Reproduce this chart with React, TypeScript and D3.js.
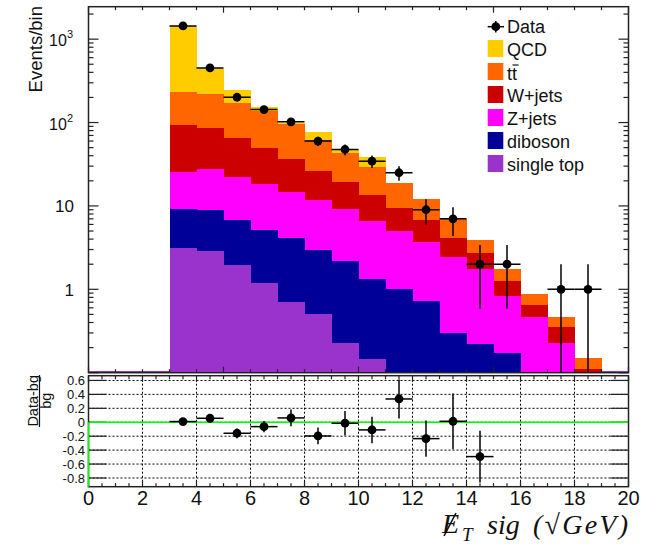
import React from 'react';
import * as d3 from 'd3';

// bins of width 1 from 0 to 20 (lower edges)
const binLow = [0, 1, 2, 3, 4, 5, 6, 7, 8, 9, 10, 11, 12, 13, 14, 15, 16, 17, 18, 19];

// background components, stacked bottom -> top
const singleTop = [0, 0, 0, 3.16, 2.88, 1.95, 1.18, 0.705, 0.507, 0.225, 0.148, 0, 0, 0, 0, 0, 0, 0, 0, 0];
const diboson = [0, 0, 0, 5.92, 5.95, 4.75, 3.91, 3.46, 2.42, 1.96, 1.17, 1.0, 0.72, 0.3, 0.22, 0.17, 0, 0, 0, 0];
const zJets = [0, 0, 0, 16.3, 18.6, 15.4, 13.0, 10.4, 8.8, 7.07, 5.26, 3.99, 2.97, 2.14, 1.52, 0.65, 0.47, 0.23, 0.05, 0];
const wJets = [0, 0, 0, 69.2, 59.0, 44.0, 31.7, 22.1, 14.4, 10.05, 7.1, 4.5, 3.07, 1.72, 0.96, 0.44, 0.18, 0.12, 0.06, 0];
const ttbar = [0, 0, 0, 135, 136, 104, 89, 60, 36, 24, 15.5, 9.5, 5.2, 2.73, 1.16, 0.51, 0.23, 0.11, 0.04, 0];
const qcd = [0, 0, 0, 1200, 213, 75, 15, 1.5, 14, 4.9, 9.6, 0, 0, 0, 0, 0, 0, 0, 0, 0];

// data
const dataCounts = [0, 0, 0, 1440, 452, 201, 143, 102, 60, 47.5, 34.4, 25, 9, 7, 2, 2, 0, 1, 1, 0];
const dataErr = [0, 0, 0, 38, 21, 14, 12, 10, 7.7, 6.9, 5.9, 5, 3, 2.65, 1.41, 1.41, 0, 1, 1, 0];

// (data-bg)/bg
const ratioBins = [3, 4, 5, 6, 7, 8, 9, 10, 11, 12, 13, 14];
const ratioVals = [0.01, 0.057, -0.158, -0.063, 0.062, -0.197, -0.014, -0.11, 0.334, -0.235, 0.014, -0.493];
const ratioErr = [0.03, 0.05, 0.07, 0.08, 0.12, 0.12, 0.175, 0.19, 0.28, 0.26, 0.4, 0.37];

const xTickLabels = [0, 2, 4, 6, 8, 10, 12, 14, 16, 18, 20];
const ratioTickLabels = [0.6, 0.4, 0.2, 0, -0.2, -0.4, -0.6, -0.8];
const logTickLabels = [1000, 100, 10, 1];

const keys = ['singleTop', 'diboson', 'zJets', 'wJets', 'ttbar', 'qcd'];
const colors: Record<string, string> = {
  singleTop: '#9933cc',
  diboson: '#000099',
  zJets: '#ff00ff',
  wJets: '#cc0000',
  ttbar: '#ff6600',
  qcd: '#ffcc00',
};
const legendItems = [
  { key: 'qcd', label: 'QCD' },
  { key: 'ttbar', label: 'tt' },
  { key: 'wJets', label: 'W+jets' },
  { key: 'zJets', label: 'Z+jets' },
  { key: 'diboson', label: 'diboson' },
  { key: 'singleTop', label: 'single top' },
];

const left = 88.5, right = 628.5;
const top0 = 6.7, top1 = 372.7;
const rat0 = 375.7, rat1 = 486.7;
const yMin = 0.1;

const sans = 'Liberation Sans, Arial, Helvetica, sans-serif';
const serif = 'Liberation Serif, Times New Roman, serif';

const App = () => {
  const x = d3.scaleLinear().domain([0, 20]).range([left, right]);
  const y = d3.scaleLog().domain([yMin, 2450]).range([top1, top0]);
  const yr = d3.scaleLinear().domain([-0.925, 0.668]).range([rat1, rat0]);

  const rows = binLow.map((b, i) => ({
    singleTop: singleTop[i], diboson: diboson[i], zJets: zJets[i],
    wJets: wJets[i], ttbar: ttbar[i], qcd: qcd[i],
  }));
  const stacked = d3.stack<any>().keys(keys)(rows);

  const yPix = (v: number) => (v <= yMin ? top1 : y(v));

  // log ticks
  const logTicks: { v: number; major: boolean }[] = [];
  for (let e = -1; e <= 3; e++) {
    for (let m = 1; m <= 9; m++) {
      const v = m * Math.pow(10, e);
      if (v >= yMin && v <= 2450) logTicks.push({ v, major: m === 1 });
    }
  }
  const xUnitTicks = d3.range(0, 21, 1);
  const xHalfTicks = d3.range(0, 20.01, 0.5);

  const stroke = '#222';

  return (
    <svg width={650} height={546} style={{ position: 'absolute', left: 0, top: 0, background: '#fff' }}
      fontFamily={sans}>
      <defs>
        <clipPath id="topclip">
          <rect x={left} y={top0} width={right - left} height={top1 - top0} />
        </clipPath>
      </defs>

      {/* ===== top panel ===== */}
      <g clipPath="url(#topclip)">
        <line x1={left} x2={right} y1={top1 - 1} y2={top1 - 1} stroke={colors.singleTop} strokeWidth={1.6} />
        {stacked.map((s) => (
          <g key={s.key}>
            {s.map((d, i) => {
              if (d[1] - d[0] <= 0 || d[1] <= yMin) return null;
              const yt = yPix(d[1]);
              const yb = yPix(d[0]);
              return (
                <rect key={i} x={x(binLow[i])} width={x(binLow[i] + 1) - x(binLow[i])}
                  y={yt} height={yb - yt} fill={colors[s.key]} shapeRendering="crispEdges" />
              );
            })}
          </g>
        ))}
        {/* data */}
        {binLow.map((b, i) => {
          const n = dataCounts[i];
          if (n <= 0) return null;
          const cx = x(b + 0.5);
          const cy = y(n);
          const lo = n - dataErr[i];
          return (
            <g key={i}>
              <line x1={x(b)} x2={x(b + 1)} y1={cy} y2={cy} stroke="#000" strokeWidth={1.5} />
              <line x1={cx} x2={cx} y1={y(n + dataErr[i])} y2={yPix(lo)} stroke="#000" strokeWidth={1.5} />
              <circle cx={cx} cy={cy} r={4.4} fill="#000" />
            </g>
          );
        })}
      </g>

      {/* top panel frame & ticks */}
      <rect x={left} y={top0} width={right - left} height={top1 - top0} fill="none" stroke={stroke} strokeWidth={1.5} />
      {logTicks.map((t, i) => {
        const yy = y(t.v);
        const len = t.major ? 10 : 5;
        return (
          <g key={i} stroke={stroke} strokeWidth={1.2}>
            <line x1={left} x2={left + len} y1={yy} y2={yy} />
            <line x1={right} x2={right - len} y1={yy} y2={yy} />
          </g>
        );
      })}
      {xUnitTicks.map((t) => {
        const xx = x(t);
        const len = t % 5 === 0 ? 6 : 3.5;
        return (
          <g key={t} stroke={stroke} strokeWidth={1.2}>
            <line x1={xx} x2={xx} y1={top0} y2={top0 + len} />
            <line x1={xx} x2={xx} y1={top1} y2={top1 - len} />
          </g>
        );
      })}
      {logTickLabels.map((v) => {
        const yy = y(v);
        const exp = Math.round(Math.log10(v));
        if (exp >= 2) {
          return (
            <text key={v} x={73} y={yy + 7} textAnchor="end" fontSize={16} fill="#111">
              10<tspan dy={-8} fontSize={11}>{exp}</tspan>
            </text>
          );
        }
        return (
          <text key={v} x={74} y={yy + 6.5} textAnchor="end" fontSize={17} fill="#111">{v}</text>
        );
      })}
      <text transform="translate(41.5,6) rotate(-90)" textAnchor="end" fontSize={18.5} fill="#111">Events/bin</text>

      {/* legend */}
      <g>
        <line x1={487.7} x2={504} y1={26.7} y2={26.7} stroke="#000" strokeWidth={1.5} />
        <line x1={495.8} x2={495.8} y1={21} y2={32.5} stroke="#000" strokeWidth={1.5} />
        <circle cx={495.8} cy={26.7} r={4.4} fill="#000" />
        <text x={507} y={33.3} fontSize={18} fill="#111">Data</text>
        {legendItems.map((it, i) => {
          const base = 56 + i * 23;
          return (
            <g key={it.key}>
              <rect x={487.7} y={base - 16} width={15.6} height={17} fill={colors[it.key]} />
              <text x={507} y={it.key === 'ttbar' ? base + 1 : base} fontSize={18} fill="#111">{it.label}</text>
              {it.key === 'ttbar' && (
                <line x1={512.5} x2={518.5} y1={base - 14} y2={base - 14} stroke="#111" strokeWidth={1.2} />
              )}
            </g>
          );
        })}
      </g>

      {/* ===== ratio panel ===== */}
      {d3.range(2, 20, 2).map((t) => (
        <line key={t} x1={x(t)} x2={x(t)} y1={rat0} y2={rat1} stroke="#000" strokeWidth={1} strokeDasharray="2,2" />
      ))}
      {ratioTickLabels.map((t) => (
        <g key={t}>
          <line x1={left} x2={right} y1={yr(t)} y2={yr(t)} stroke="#000" strokeWidth={1} strokeDasharray="2,2" />
          <line x1={left} x2={left + 18} y1={yr(t)} y2={yr(t)} stroke={stroke} strokeWidth={1.2} />
          <line x1={right} x2={right - 18} y1={yr(t)} y2={yr(t)} stroke={stroke} strokeWidth={1.2} />
          <text x={85} y={yr(t) + 4.6} textAnchor="end" fontSize={13} fill="#111">{t === 0 ? '0' : t.toFixed(1)}</text>
        </g>
      ))}
      {xHalfTicks.map((t) => {
        const xx = x(t);
        const len = t % 2 === 0 ? 6 : 3.5;
        return (
          <g key={t} stroke={stroke} strokeWidth={1.2}>
            <line x1={xx} x2={xx} y1={rat0} y2={rat0 + len} />
            <line x1={xx} x2={xx} y1={rat1} y2={rat1 - len} />
          </g>
        );
      })}
      <line x1={left} x2={right} y1={yr(0)} y2={yr(0)} stroke="#00ff00" strokeWidth={1.5} />
      {ratioBins.map((b, i) => {
        const cx = x(b + 0.5);
        const cy = yr(ratioVals[i]);
        return (
          <g key={b}>
            <line x1={x(b)} x2={x(b + 1)} y1={cy} y2={cy} stroke="#000" strokeWidth={1.5} />
            <line x1={cx} x2={cx} y1={yr(ratioVals[i] + ratioErr[i])} y2={yr(ratioVals[i] - ratioErr[i])} stroke="#000" strokeWidth={1.5} />
            <circle cx={cx} cy={cy} r={4.4} fill="#000" />
          </g>
        );
      })}
      <rect x={left} y={rat0} width={right - left} height={rat1 - rat0} fill="none" stroke={stroke} strokeWidth={1.5} />
      <line x1={left} x2={left} y1={yr(0)} y2={rat1} stroke="#00ff00" strokeWidth={1.5} />

      {/* ratio title */}
      <text transform="translate(38,400.8) rotate(-90)" textAnchor="middle" fontSize={14.5} fill="#111">Data-bg</text>
      <line x1={39.5} x2={39.5} y1={375} y2={427} stroke="#111" strokeWidth={1.2} />
      <text transform="translate(51,400.8) rotate(-90)" textAnchor="middle" fontSize={14.5} fill="#111">bg</text>

      {/* x tick labels */}
      {xTickLabels.map((t) => (
        <text key={t} x={x(t)} y={505} textAnchor="middle" fontSize={20} fill="#111">{t}</text>
      ))}

      {/* x title */}
      <g fontFamily={serif} fontStyle="italic" fill="#111">
        <text x={442} y={533} fontSize={28}>E</text>
        <line x1={444} x2={456} y1={536} y2={513} stroke="#111" strokeWidth={1.6} />
        <text x={462} y={541} fontSize={19}>T</text>
        <text x={487} y={534} fontSize={28}>sig</text>
        <text x={533} y={534} fontSize={28} textLength={95} lengthAdjust="spacing">(√GeV)</text>
      </g>
    </svg>
  );
};

export default App;
